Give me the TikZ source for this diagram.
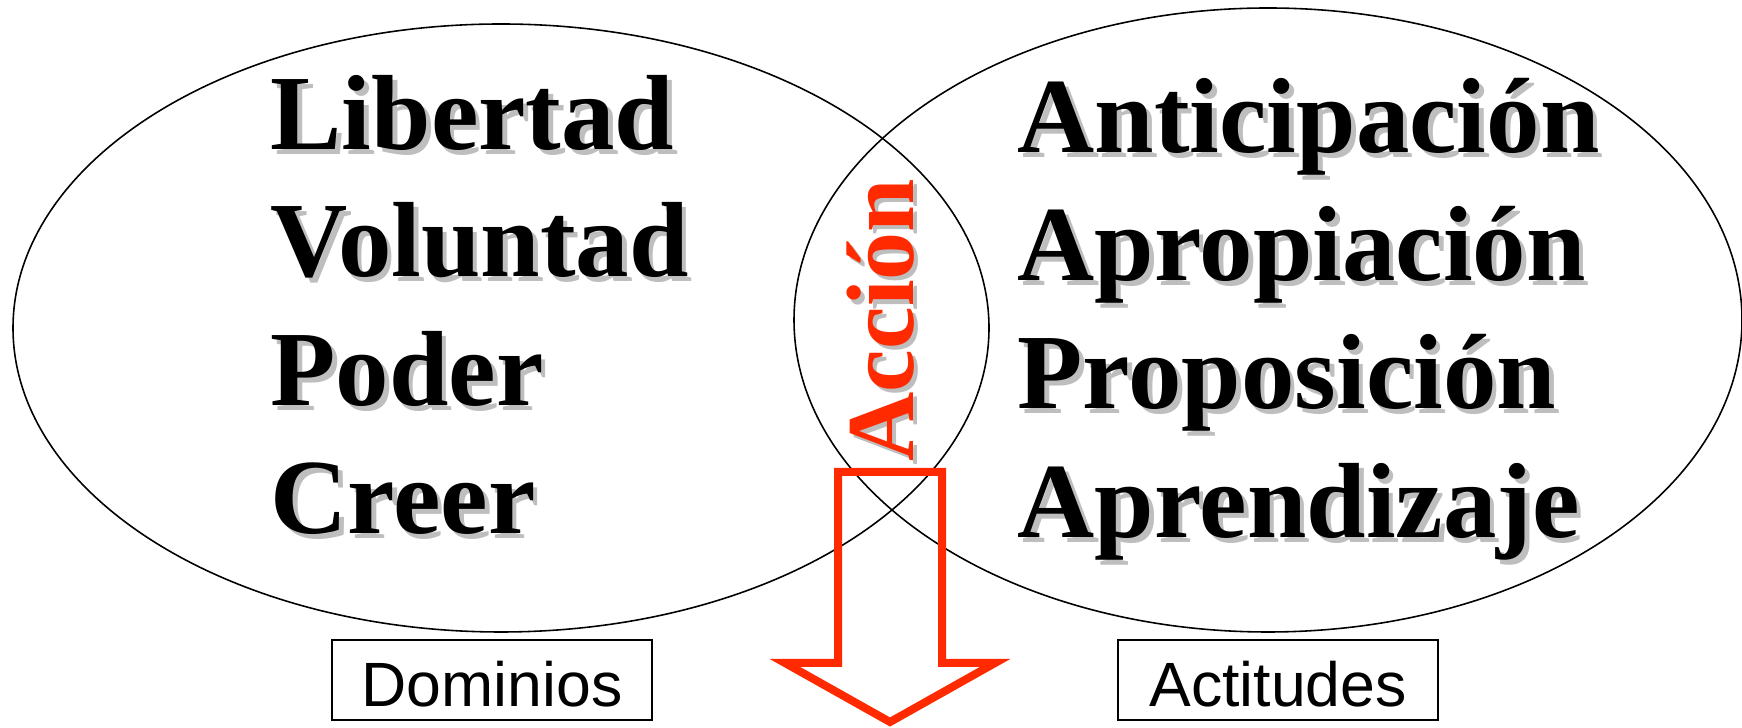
\documentclass[tikz,border=0pt]{standalone}
\usepackage{fontspec}
\setmainfont{Liberation Serif}
\newfontfamily\labelfont{Liberation Sans}
\usetikzlibrary{shapes.geometric}
\definecolor{accionred}{RGB}{255,42,0}
\definecolor{shadowgray}{RGB}{190,190,190}

\begin{document}
\begin{tikzpicture}[x=0.1mm,y=-0.1mm,
        set/.style={ellipse,draw,line width=0.45pt,inner sep=0pt},
        word/.style={anchor=base west,inner sep=0pt,font=\fontsize{30.4}{31}\selectfont\bfseries},
        wordshadow/.style={word,text=shadowgray,xshift=0.45mm,yshift=-0.45mm},
        tagbox/.style={draw,line width=0.6pt,minimum width=32mm,minimum height=8mm,
            text height=5.4mm,text depth=0pt,inner sep=0pt,
            font=\labelfont\fontsize{17.8}{18}\selectfont}]

    \useasboundingbox (0,0) rectangle (1742,728);

    % the two sets
    \node[set, minimum width=97.6mm, minimum height=60.8mm] (dom) at (501,328) {};
    \node[set, minimum width=94.8mm, minimum height=62.4mm] (act) at (1268,320) {};

    % left set
    \node[wordshadow] at (270,150) {Libertad};
    \node[word] (lib) at (270,150) {Libertad};
    \node[wordshadow] at (270,277) {Voluntad};
    \node[word] (vol) at (270,277) {Voluntad};
    \node[wordshadow] at (270,406) {Poder};
    \node[word] (pod) at (270,406) {Poder};
    \node[wordshadow] at (270,534) {Creer};
    \node[word] (cre) at (270,534) {Creer};

    % right set
    \node[wordshadow] at (1017,153) {Anticipación};
    \node[word] (ant) at (1017,153) {Anticipación};
    \node[wordshadow] at (1017,281) {Apropiación};
    \node[word] (apr) at (1017,281) {Apropiación};
    \node[wordshadow] at (1017,409) {Proposición};
    \node[word] (pro) at (1017,409) {Proposición};
    \node[wordshadow] at (1017,538) {Aprendizaje};
    \node[word] (apz) at (1017,538) {Aprendizaje};

    % intersection
    \node[wordshadow, rotate=90, font=\fontsize{27.3}{28}\selectfont\bfseries] at (913,462) {Acción};
    \node[word, rotate=90, text=accionred, font=\fontsize{27.3}{28}\selectfont\bfseries] (acc) at (913,462) {Acción};

    \draw[accionred, line width=0.8mm, line join=miter]
        (838,472) -- (942,472) -- (942,663) -- (995,663) -- (890,722)
        -- (785,663) -- (838,663) -- cycle;

    % labels
    \node[tagbox] (domtag) at (492,680) {Dominios};
    \node[tagbox] (acttag) at (1278,680) {Actitudes};

\end{tikzpicture}
\end{document}
